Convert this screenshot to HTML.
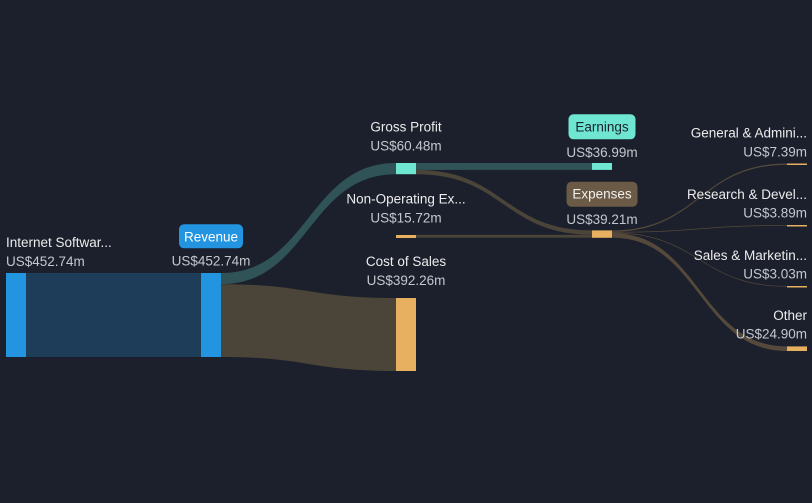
<!DOCTYPE html>
<html><head><meta charset="utf-8"><style>
html,body{margin:0;padding:0;background:#1b202c;}
svg{display:block;}
text{font-family:"Liberation Sans",sans-serif;font-size:13.5px;}
.n{fill:#ececec;}
.v{fill:#c4c7cd;}
</style></head><body>
<svg width="812" height="503" viewBox="0 0 812 503" xmlns="http://www.w3.org/2000/svg">
<rect width="812" height="503" fill="#1b202c"/>
<!-- links -->
<rect x="26" y="273" width="175" height="84" fill="#1e3d58"/>
<path d="M221,273 C308.5,273 308.5,163 396,163 L396,174.2 C308.5,174.2 308.5,284.2 221,284.2 Z" fill="#2f5356"/>
<path d="M221,284.2 C308.5,284.2 308.5,298 396,298 L396,371 C308.5,371 308.5,357 221,357 Z" fill="#4b4439"/>
<rect x="416" y="163" width="176" height="6.9" fill="#2f5356"/>
<path d="M416,169.9 C504,169.9 504,230.4 592,230.4 L592,234.8 C504,234.8 504,174.3 416,174.3 Z" fill="#4b4439"/>
<rect x="416" y="234.8" width="176" height="2.9" fill="#4b4439"/>
<path d="M612,230.4 C699.5,230.4 699.5,163.5 787,163.5 L787,164.9 C699.5,164.9 699.5,231.8 612,231.8 Z" fill="#54493a"/>
<path d="M612,231.8 C699.5,231.8 699.5,225 787,225 L787,225.8 C699.5,225.8 699.5,232.6 612,232.6 Z" fill="#54493a"/>
<path d="M612,232.5 C699.5,232.5 699.5,286 787,286 L787,286.7 C699.5,286.7 699.5,233.2 612,233.2 Z" fill="#54493a"/>
<path d="M612,233.1 C699.5,233.1 699.5,346.4 787,346.4 L787,351 C699.5,351 699.5,237.7 612,237.7 Z" fill="#54493a"/>
<!-- nodes -->
<rect x="6" y="273" width="20" height="84" fill="#2394e0"/>
<rect x="201" y="273" width="20" height="84" fill="#2394e0"/>
<rect x="396" y="163" width="20" height="11.2" fill="#6ee6d2"/>
<rect x="396" y="235" width="20" height="3" fill="#e6b060"/>
<rect x="396" y="298" width="20" height="73" fill="#e6b060"/>
<rect x="592" y="163" width="20" height="6.9" fill="#6ee6d2"/>
<rect x="592" y="230.4" width="20" height="7.4" fill="#e6b060"/>
<rect x="787" y="163.5" width="20" height="1.5" fill="#e6b060"/>
<rect x="787" y="225" width="20" height="1.5" fill="#e6b060"/>
<rect x="787" y="286" width="20" height="1.5" fill="#e6b060"/>
<rect x="787" y="346.4" width="20" height="4.6" fill="#e6b060"/>
<!-- labels -->
<text class="n" x="6" y="247">Internet Softwar...</text>
<text class="v" x="6" y="266">US$452.74m</text>

<rect x="179" y="224.3" width="64" height="24" rx="5" fill="#2394e0"/>
<text x="211" y="241.7" text-anchor="middle" fill="#ffffff">Revenue</text>
<text class="v" x="211" y="265.5" text-anchor="middle">US$452.74m</text>

<text class="n" x="406" y="131.7" text-anchor="middle">Gross Profit</text>
<text class="v" x="406" y="150.7" text-anchor="middle">US$60.48m</text>
<text class="n" x="406" y="203.3" text-anchor="middle">Non-Operating Ex...</text>
<text class="v" x="406" y="222.3" text-anchor="middle">US$15.72m</text>
<text class="n" x="406" y="266" text-anchor="middle">Cost of Sales</text>
<text class="v" x="406" y="285" text-anchor="middle">US$392.26m</text>

<rect x="568.5" y="114.3" width="67" height="25" rx="5" fill="#6ee6d2"/>
<text x="602" y="131.7" text-anchor="middle" fill="#1b202c">Earnings</text>
<text class="v" x="602" y="157" text-anchor="middle">US$36.99m</text>
<rect x="566.5" y="181.7" width="71" height="25" rx="5" fill="#6b5a45"/>
<text x="602" y="198.5" text-anchor="middle" fill="#f0f0f0">Expenses</text>
<text class="v" x="602" y="224" text-anchor="middle">US$39.21m</text>

<text class="n" x="807" y="137.7" text-anchor="end">General &amp; Admini...</text>
<text class="v" x="807" y="156.7" text-anchor="end">US$7.39m</text>
<text class="n" x="807" y="199" text-anchor="end">Research &amp; Devel...</text>
<text class="v" x="807" y="217.7" text-anchor="end">US$3.89m</text>
<text class="n" x="807" y="260" text-anchor="end">Sales &amp; Marketin...</text>
<text class="v" x="807" y="278.3" text-anchor="end">US$3.03m</text>
<text class="n" x="807" y="320" text-anchor="end">Other</text>
<text class="v" x="807" y="338.3" text-anchor="end">US$24.90m</text>
</svg>
</body></html>
